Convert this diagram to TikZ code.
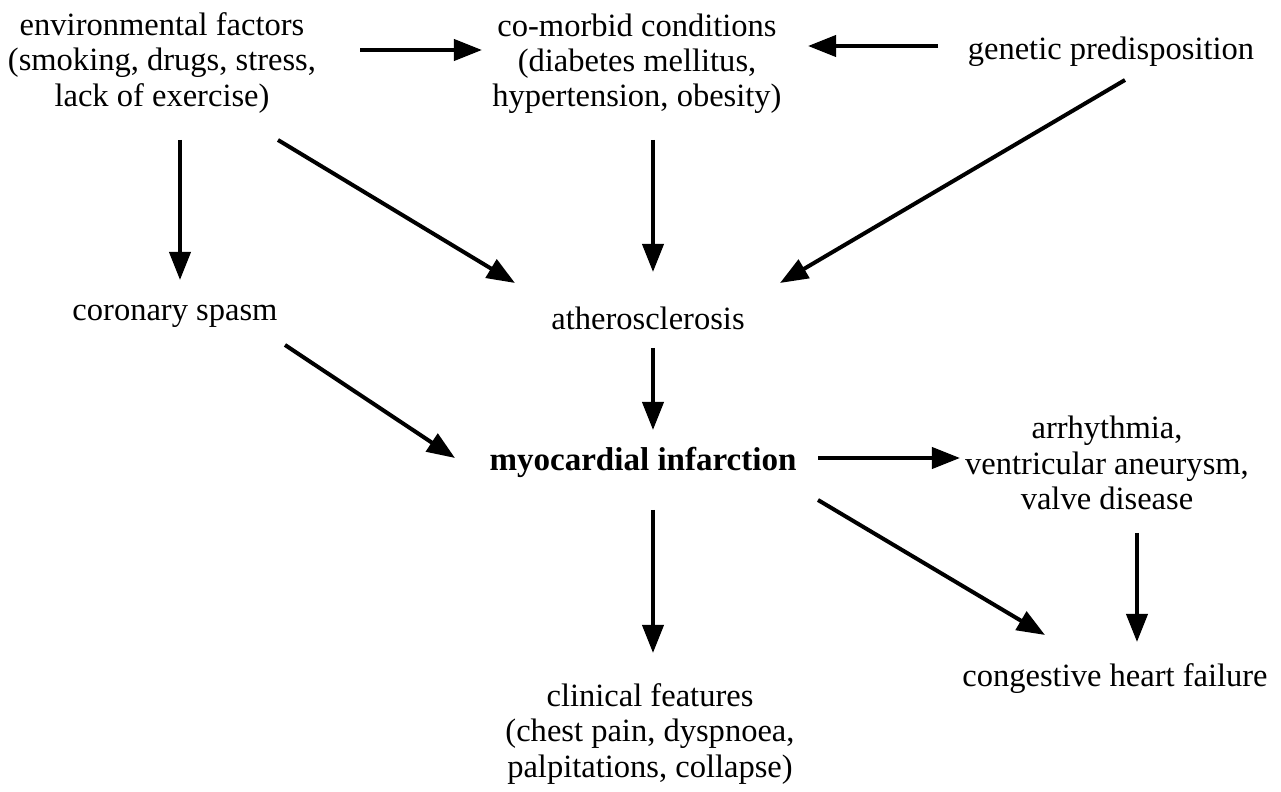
\documentclass[tikz,border=0pt]{standalone}
\usepackage{fontspec}
\setmainfont{Liberation Serif}
\usetikzlibrary{arrows.meta}
\tikzset{
	box/.style={align=center, inner sep=0pt, font=\fontsize{9.25}{10}\selectfont},
	arr/.style={line width=0.04cm, -{Triangle[length=0.28cm, width=0.21cm]}}
}

\begin{document}
\begin{tikzpicture}[x=0.01cm, y=-0.01cm]
			%%%%% START %%%%%
			\useasboundingbox (0, 0) rectangle (1281, 792);
			
			\node[box] (env) at (162, 63) {environmental factors\\(smoking, drugs, stress,\\lack of exercise)};
			\node[box] (com) at (637, 64) {co-morbid conditions\\(diabetes mellitus,\\hypertension, obesity)};
			\node[box] (gen) at (1111, 52) {genetic predisposition};
			
			\node[box] (cor) at (175, 316) {coronary spasm};
			\node[box] (ath) at (648, 318) {atherosclerosis};
			
			\node[box, font=\fontsize{9.4}{10}\selectfont\bfseries] (mi) at (643, 462) {myocardial infarction};
			\node[box] (arr) at (1107, 463) {arrhythmia,\\ventricular aneurysm,\\valve disease};
			\node[box] (chf) at (1115, 679) {congestive heart failure};
			\node[box] (cli) at (650, 734) {clinical features\\(chest pain, dyspnoea,\\palpitations, collapse)};
			
			\draw[arr] ([shift={(198, -13)}]env.center) -- ([shift={(-155, -14)}]com.center);
			\draw[arr] ([shift={(-173, -6)}]gen.center) -- ([shift={(171, -18)}]com.center);
			\draw[arr] ([shift={(18, 77)}]env.center) -- ([shift={(5, -36)}]cor.center);
			\draw[arr] ([shift={(116, 77)}]env.center) -- ([shift={(-133, -35)}]ath.center);
			\draw[arr] ([shift={(16, 76)}]com.center) -- ([shift={(5, -46)}]ath.center);
			\draw[arr] ([shift={(14, 28)}]gen.center) -- ([shift={(132, -35)}]ath.center);
			
			\draw[arr] ([shift={(110, 29)}]cor.center) -- ([shift={(-188, -4)}]mi.center);
			\draw[arr] ([shift={(5, 30)}]ath.center) -- ([shift={(10, -32)}]mi.center);
			
			\draw[arr] ([shift={(175, -4)}]mi.center) -- ([shift={(-147, -5)}]arr.center);
			\draw[arr] ([shift={(175, 38)}]mi.center) -- ([shift={(-70, -44)}]chf.center);
			\draw[arr] ([shift={(10, 48)}]mi.center) -- ([shift={(3, -81)}]cli.center);
			\draw[arr] ([shift={(30, 70)}]arr.center) -- ([shift={(22, -37)}]chf.center);
			%%%%% END %%%%%
\end{tikzpicture}
\end{document}
